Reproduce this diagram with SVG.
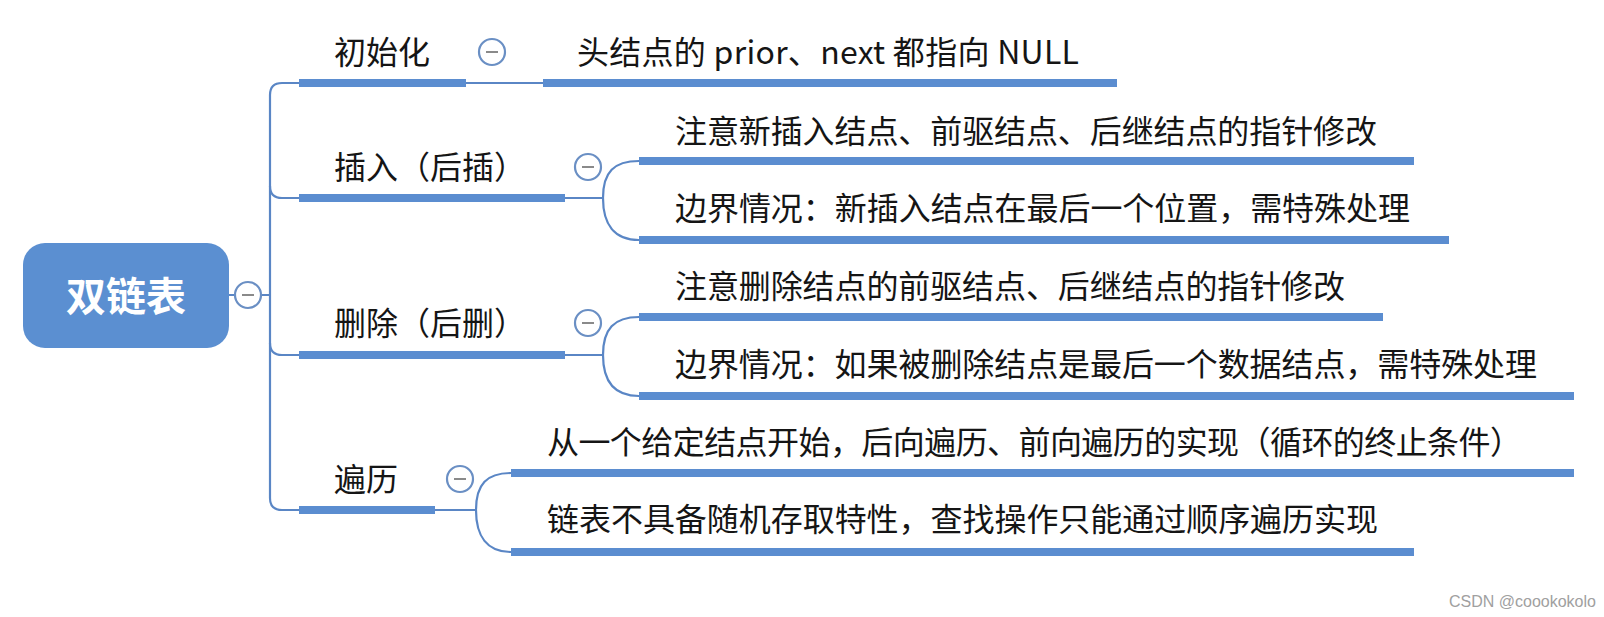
<svg xmlns="http://www.w3.org/2000/svg" width="1604" height="617" viewBox="0 0 1604 617">
<style>
.t{font-family:"Noto Sans CJK SC","Noto Sans",sans-serif;font-size:32px;fill:#151515}
.bar{fill:#5b8dd0}
.ln{fill:none;stroke:#5a86c5;stroke-width:2.2}
.cc{fill:#fff;stroke:#6a8fc4;stroke-width:2.2}
.mn{stroke:#8a8a8a;stroke-width:2}
</style>
<rect width="1604" height="617" fill="#fff"/>
<g id="connectors">
<path class="ln" d="M229 295 H270"/>
<path class="ln" d="M299 83 H282 Q270 83 270 95 V498 Q270 510 282 510 H299"/>
<path class="ln" d="M270 186 Q270 198 282 198 H299"/>
<path class="ln" d="M270 343 Q270 355 282 355 H299"/>
<path class="ln" d="M466 83 H543"/>
<path class="ln" d="M565 198 H603 C603 172 614 161 639 161 M603 198 C603 224 614 240 639 240"/>
<path class="ln" d="M565 355 H603 C603 329 614 317 639 317 M603 355 C603 381 614 396 639 396"/>
<path class="ln" d="M435 510 H476 C476 484 487 473 511 473 M476 510 C476 536 487 552 511 552"/>
</g>
<g id="root">
<rect x="23" y="243" width="206" height="105" rx="22" fill="#5b8fd1"/>
<text x="126" y="311" text-anchor="middle" style="font-family:'Noto Sans CJK SC',sans-serif;font-size:40px;font-weight:bold;fill:#fff">双链表</text>
<circle class="cc" cx="248" cy="295" r="13"/><line class="mn" x1="242" y1="295" x2="254" y2="295"/>
</g>
<g id="n-init">
<rect class="bar" x="299" y="79" width="167" height="8"/>
<text class="t" x="334" y="64">初始化</text>
<circle class="cc" cx="492" cy="52" r="13"/><line class="mn" x1="486" y1="52" x2="498" y2="52"/>
</g>
<g id="n-init-1">
<rect class="bar" x="543" y="79" width="574" height="8"/>
<text class="t" x="577" y="64" textLength="502" lengthAdjust="spacing">头结点的 prior、next 都指向 NULL</text>
</g>
<g id="n-insert">
<rect class="bar" x="299" y="194" width="266" height="8"/>
<text class="t" x="334" y="179">插入（后插）</text>
<circle class="cc" cx="588" cy="167" r="13"/><line class="mn" x1="582" y1="167" x2="594" y2="167"/>
</g>
<g id="n-insert-1">
<rect class="bar" x="639" y="157" width="775" height="8"/>
<text class="t" x="675" y="143" textLength="702" lengthAdjust="spacing">注意新插入结点、前驱结点、后继结点的指针修改</text>
</g>
<g id="n-insert-2">
<rect class="bar" x="639" y="236" width="810" height="8"/>
<text class="t" x="675" y="220" textLength="735" lengthAdjust="spacing">边界情况：新插入结点在最后一个位置，需特殊处理</text>
</g>
<g id="n-delete">
<rect class="bar" x="299" y="351" width="266" height="8"/>
<text class="t" x="334" y="335">删除（后删）</text>
<circle class="cc" cx="588" cy="323" r="13"/><line class="mn" x1="582" y1="323" x2="594" y2="323"/>
</g>
<g id="n-delete-1">
<rect class="bar" x="639" y="313" width="744" height="8"/>
<text class="t" x="675" y="298" textLength="670" lengthAdjust="spacing">注意删除结点的前驱结点、后继结点的指针修改</text>
</g>
<g id="n-delete-2">
<rect class="bar" x="639" y="392" width="935" height="8"/>
<text class="t" x="675" y="376" textLength="862" lengthAdjust="spacing">边界情况：如果被删除结点是最后一个数据结点，需特殊处理</text>
</g>
<g id="n-traverse">
<rect class="bar" x="299" y="506" width="136" height="8"/>
<text class="t" x="334" y="491">遍历</text>
<circle class="cc" cx="460" cy="479" r="13"/><line class="mn" x1="454" y1="479" x2="466" y2="479"/>
</g>
<g id="n-traverse-1">
<rect class="bar" x="511" y="469" width="1063" height="8"/>
<text class="t" x="547" y="454" textLength="975" lengthAdjust="spacing">从一个给定结点开始，后向遍历、前向遍历的实现（循环的终止条件）</text>
</g>
<g id="n-traverse-2">
<rect class="bar" x="511" y="548" width="903" height="8"/>
<text class="t" x="547" y="531" textLength="831" lengthAdjust="spacing">链表不具备随机存取特性，查找操作只能通过顺序遍历实现</text>
</g>
<text x="1449" y="607" style="font-family:'Liberation Sans',sans-serif;font-size:16px;fill:#a0a0a0">CSDN @coookokolo</text>
</svg>
